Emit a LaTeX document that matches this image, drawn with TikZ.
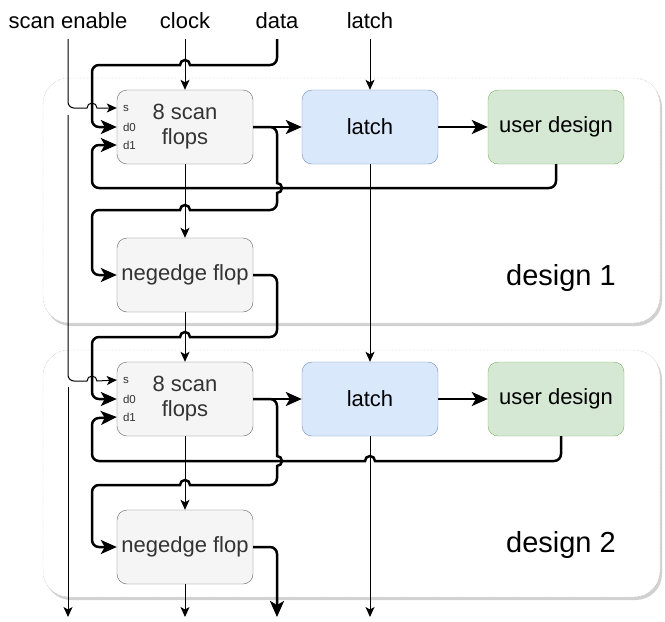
\documentclass[tikz,border=0pt]{standalone}
\usepackage{fontspec}
\setmainfont{Liberation Sans}
\usetikzlibrary{arrows.meta,shadows}

\definecolor{flopfill}{HTML}{F5F5F5}
\definecolor{flopline}{HTML}{666666}
\definecolor{floptext}{HTML}{333333}
\definecolor{latchfill}{HTML}{DAE8FC}
\definecolor{latchline}{HTML}{6C8EBF}
\definecolor{userfill}{HTML}{D5E8D4}
\definecolor{userline}{HTML}{82B366}

\tikzset{
  block/.style={shape=rectangle, rounded corners=10pt, minimum width=136pt, minimum height=74pt,
    align=center, font=\fontsize{22}{25}\selectfont},
  flop/.style={block, draw=flopline, fill=flopfill, text=floptext},
  latchbox/.style={block, draw=latchline, fill=latchfill},
  userbox/.style={block, draw=userline, fill=userfill},
  pinlbl/.style={anchor=west, inner sep=0pt, font=\fontsize{11.5}{12}\selectfont, text=floptext},
  toplbl/.style={font=\fontsize{22}{25}\selectfont, text height=16pt, text depth=5pt, inner sep=6pt},
  designlbl/.style={font=\fontsize{29}{32}\selectfont},
  frame/.style={draw=black!35, densely dotted, fill=white, rounded corners=26pt,
    drop shadow={shadow xshift=2pt, shadow yshift=-3pt, fill=black, opacity=0.18}},
  sig/.style={line width=1pt, -{Stealth[length=10pt,width=9pt,inset=2.5pt]}},
  bus/.style={line width=2.5pt, -{Stealth[length=16pt,width=14pt,inset=4pt]}},
}

\begin{document}
\begin{tikzpicture}[x=1pt,y=1pt]
	\useasboundingbox (0,0) rectangle (665,-622);

	\draw[frame] (43,-78) rectangle (660,-323);
	\draw[frame] (43,-350) rectangle (660,-597);

	\node[toplbl] (se) at (68,-22.5)    {scan enable};
	\node[toplbl] (clk) at (185,-22.5)  {clock};
	\node[toplbl] (data) at (277,-22.5) {data};
	\node[toplbl] (lt) at (370,-22.5)   {latch};

	\node[flop] (sf1) at (185,-127)     {8 scan\\flops};
	\node[flop] (nf1) at (185,-275)     {negedge flop};
	\node[latchbox] (la1) at (370,-127) {latch};
	\node[userbox] (ud1) at (556,-127)  {user design};
	\node[designlbl] (d1) at (561,-278) {design 1};

	\node[flop] (sf2) at (185,-399)     {8 scan\\flops};
	\node[flop] (nf2) at (185,-547)     {negedge flop};
	\node[latchbox] (la2) at (370,-399) {latch};
	\node[userbox] (ud2) at (556,-399)  {user design};
	\node[designlbl] (d2) at (561,-545) {design 2};

	\node[pinlbl] (s1) at ([xshift=6pt,yshift=19pt]sf1.west)   {s};
	\node[pinlbl] (d01) at ([xshift=6pt]sf1.west)              {d0};
	\node[pinlbl] (d11) at ([xshift=6pt,yshift=-18pt]sf1.west) {d1};
	\node[pinlbl] (s2) at ([xshift=6pt,yshift=19pt]sf2.west)   {s};
	\node[pinlbl] (d02) at ([xshift=6pt]sf2.west)              {d0};
	\node[pinlbl] (d12) at ([xshift=6pt,yshift=-18pt]sf2.west) {d1};

	\coordinate (se2) at (68,-115);
	\coordinate (se3) at (68,-387);
	\coordinate (seout) at (68,-617);
	\coordinate (clkout) at (185,-617);
	\coordinate (nfout) at (277,-617);
	\coordinate (ltout) at (370,-617);

	% design 1
	\draw[sig] (se.south) -- (68,-102) arc (180:270:6pt) -- (87,-108) arc (180:0:5pt) -- ([yshift=19pt]sf1.west);
	\draw[bus] (data.south) -- (277,-58) arc (0:-90:7pt) -- (190,-65) arc (0:180:5pt) -- (99,-65) arc (90:180:7pt)
		-- (92,-120) arc (180:270:7pt) -- (sf1.west);
	\draw[sig] (clk.south) -- (sf1.north);
	\draw[sig] (lt.south) -- (la1.north);
	\draw[bus] (sf1.east) -- (la1.west);
	\draw[bus] (la1.east) -- (ud1.west);
	\draw[bus] (ud1.south) -- (556,-181) arc (0:-90:7pt) -- (99,-188) arc (270:180:7pt) -- (92,-152) arc (180:90:7pt)
		-- ([yshift=-18pt]sf1.west);
	\draw[bus] (sf1.east) -- (270,-127) arc (90:0:7pt) -- (277,-183) arc (90:-90:5pt) -- (277,-203) arc (0:-90:7pt)
		-- (190,-210) arc (0:180:5pt) -- (99,-210) arc (90:180:7pt) -- (92,-268) arc (180:270:7pt) -- (nf1.west);
	\draw[sig] (sf1.south) -- (nf1.north);
	\draw[bus] (nf1.east) -- (270,-275) arc (90:0:7pt) -- (277,-330) arc (0:-90:7pt) -- (190,-337) arc (0:180:5pt)
		-- (99,-337) arc (90:180:7pt) -- (92,-392) arc (180:270:7pt) -- (sf2.west);

	% design 2
	\draw[sig] (se2) -- (68,-375) arc (180:270:6pt) -- (87,-381) arc (180:0:5pt) -- ([yshift=19pt]sf2.west);
	\draw[sig] (se3) -- (seout);
	\draw[sig] (nf1.south) -- (sf2.north);
	\draw[sig] (la1.south) -- (la2.north);
	\draw[bus] (sf2.east) -- (la2.west);
	\draw[bus] (la2.east) -- (ud2.west);
	\draw[bus] ([xshift=5pt]ud2.south) -- (561,-454) arc (0:-90:7pt) -- (375,-461) arc (0:180:5pt) -- (99,-461)
		arc (270:180:7pt) -- (92,-425) arc (180:90:7pt) -- ([yshift=-18pt]sf2.west);
	\draw[bus] (sf2.east) -- (270,-399) arc (90:0:7pt) -- (277,-456) arc (90:-90:5pt) -- (277,-478) arc (0:-90:7pt)
		-- (190,-485) arc (0:180:5pt) -- (99,-485) arc (90:180:7pt) -- (92,-540) arc (180:270:7pt) -- (nf2.west);
	\draw[sig] (sf2.south) -- (nf2.north);
	\draw[sig] (nf2.south) -- (clkout);
	\draw[bus] (nf2.east) -- (270,-547) arc (90:0:7pt) -- (nfout);
	\draw[sig] (la2.south) -- (ltout);
\end{tikzpicture}
\end{document}
